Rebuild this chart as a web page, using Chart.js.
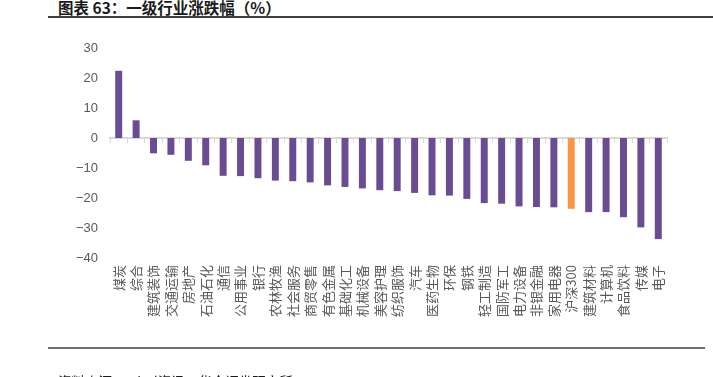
<!DOCTYPE html>
<html>
<head>
<meta charset="utf-8">
<script src="https://cdn.jsdelivr.net/npm/chart.js@4"></script>
<style>
  body { margin: 0; width: 713px; height: 377px; overflow: hidden; background: #fff; position: relative; }
  #title { position: absolute; left: 58px; top: -4px; font: bold 15.5px "Noto Sans CJK SC", sans-serif; color: #1a1a1a; white-space: nowrap; }
  #topLine { position: absolute; left: 48px; top: 16px; width: 665px; height: 1.5px; background: #404040; }
  #bottomLine { position: absolute; left: 48px; top: 347px; width: 657px; height: 2px; background: #6e6e6e; }
  #source { position: absolute; left: 58px; top: 371px; font: 13.5px "Noto Sans CJK SC", sans-serif; color: #1a1a1a; white-space: nowrap; }
  canvas { position: absolute; left: 0; top: 0; }
</style>
</head>
<body>
<div id="title">图表 63：一级行业涨跌幅（%）</div>
<div id="topLine"></div>
<canvas id="chart" width="713" height="377"></canvas>
<div id="bottomLine"></div>
<div id="source">资料来源：Wind资讯，华金证券研究所</div>
<script>
const categories = ['煤炭', '综合', '建筑装饰', '交通运输', '房地产', '石油石化', '通信', '公用事业',
  '银行', '农林牧渔', '社会服务', '商贸零售', '有色金属', '基础化工', '机械设备', '美容护理',
  '纺织服饰', '汽车', '医药生物', '环保', '钢铁', '轻工制造', '国防军工', '电力设备',
  '非银金融', '家用电器', '沪深300', '建筑材料', '计算机', '食品饮料', '传媒', '电子'];
const changes = [22.4, 5.9, -5.1, -5.6, -7.6, -9.1, -12.6, -12.7,
  -13.4, -14.2, -14.4, -14.8, -15.8, -16.3, -16.8, -17.4,
  -17.7, -18.3, -19.1, -19.2, -20.3, -21.7, -21.9, -22.8,
  -23.0, -23.1, -23.6, -24.7, -24.7, -26.4, -29.8, -33.7];
const benchmark = '沪深300';
const yMin = -40, yMax = 30, yStep = 10;

const barColor = '#6a4c93';
const benchColor = '#f79646';
const textColor = '#595959';

new Chart(document.getElementById('chart'), {
  type: 'bar',
  data: {
    labels: categories,
    datasets: [{
      data: changes,
      xAxisID: 'x',
      backgroundColor: categories.map(c => c === benchmark ? benchColor : barColor),
      barPercentage: 0.8,
      categoryPercentage: 0.5
    }]
  },
  options: {
    responsive: false,
    animation: false,
    devicePixelRatio: 1,
    layout: { padding: { top: 48, right: 46, bottom: 0, left: 0 } },
    plugins: { legend: { display: false }, tooltip: { enabled: false } },
    scales: {
      // zero line with small category ticks
      x: {
        position: { y: 0 },
        offset: true,
        grid: { offset: true, drawOnChartArea: false, tickLength: 4, color: '#d9d9d9', lineWidth: 1 },
        border: { color: '#d9d9d9', width: 2 },
        ticks: { display: false }
      },
      // category names along the bottom
      x2: {
        type: 'category',
        axis: 'x',
        position: 'bottom',
        offset: true,
        afterFit: s => { s.height = 119; },
        grid: { display: false, drawTicks: false },
        border: { display: false },
        ticks: {
          minRotation: 90,
          maxRotation: 90,
          autoSkip: false,
          padding: 7,
          color: textColor,
          font: { family: '"Noto Sans CJK SC", sans-serif', size: 13 }
        }
      },
      y: {
        min: yMin,
        max: yMax,
        afterFit: s => { s.width = 110; },
        grid: { display: false, drawTicks: false },
        border: { display: false },
        ticks: {
          stepSize: yStep,
          padding: 12,
          color: textColor,
          font: { family: '"Liberation Sans", Arial, sans-serif', size: 13 },
          callback: v => String(v).replace('-', '\u2212')
        }
      }
    }
  }
});
</script>
</body>
</html>
